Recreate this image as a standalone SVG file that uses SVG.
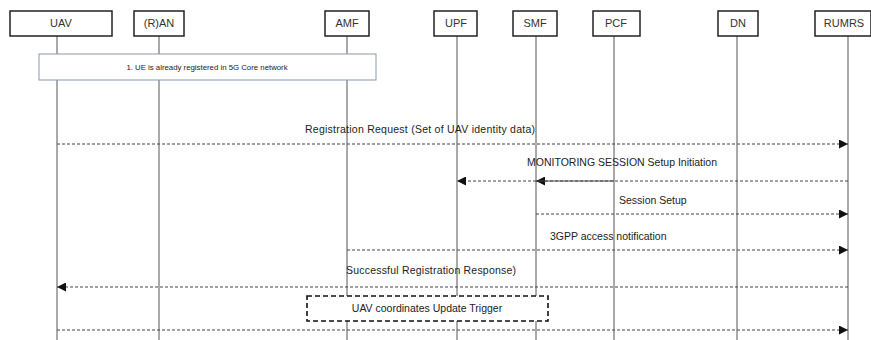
<svg xmlns="http://www.w3.org/2000/svg" width="871" height="340" viewBox="0 0 871 340">
  <style>
    .hdr rect { fill: #fff; stroke: #222; stroke-width: 1.5; }
    .hdr text { font-family: "Liberation Sans", Arial, sans-serif; font-size: 11px; fill: #333; text-anchor: middle; }
    .life { stroke: #555; stroke-width: 1; }
    .msg { stroke: #444; stroke-width: 1; stroke-dasharray: 3 2; fill: none; }
    .solid { stroke: #444; stroke-width: 1; fill: none; }
    .lbl { font-family: "Liberation Sans", Arial, sans-serif; font-size: 10.5px; fill: #222; }
    .note rect { fill: #fff; stroke: #8a97ab; stroke-width: 1; }
    .note text { font-family: "Liberation Sans", Arial, sans-serif; font-size: 7.8px; fill: #222; text-anchor: middle; }
    .trig rect { fill: #fff; stroke: #111; stroke-width: 1.6; stroke-dasharray: 5 3; }
    .trig text { font-family: "Liberation Sans", Arial, sans-serif; font-size: 10.5px; fill: #222; text-anchor: middle; }
  </style>
  <defs>
    <marker id="arr" viewBox="0 0 10 10" refX="10" refY="5" markerWidth="10" markerHeight="9" markerUnits="userSpaceOnUse" orient="auto">
      <path d="M0,0 L10,5 L0,10 Z" fill="#111"/>
    </marker>
  </defs>

  <rect width="871" height="340" fill="#fff"/>

  <!-- lifelines -->
  <g id="lifelines">
    <line class="life" x1="57" y1="36" x2="57" y2="340"/>
    <line class="life" x1="159" y1="36" x2="159" y2="340" stroke="#888"/>
    <line class="life" x1="347" y1="36" x2="347" y2="340"/>
    <line class="life" x1="457" y1="36" x2="457" y2="340"/>
    <line class="life" x1="536" y1="36" x2="536" y2="340" stroke="#888"/>
    <line class="life" x1="614" y1="36" x2="614" y2="340" stroke="#888"/>
    <line class="life" x1="737" y1="36" x2="737" y2="340"/>
    <line class="life" x1="848" y1="36" x2="848" y2="340" stroke="#888"/>
  </g>

  <!-- participants -->
  <g id="uav" class="hdr"><rect x="10" y="11" width="102" height="25"/><text x="61" y="27">UAV</text></g>
  <g id="ran" class="hdr"><rect x="134" y="11" width="50" height="25"/><text x="159" y="27">(R)AN</text></g>
  <g id="amf" class="hdr"><rect x="325" y="11" width="44" height="25"/><text x="347" y="27">AMF</text></g>
  <g id="upf" class="hdr"><rect x="434" y="11" width="43" height="25"/><text x="456" y="27">UPF</text></g>
  <g id="smf" class="hdr"><rect x="513" y="11" width="44" height="25"/><text x="535" y="27">SMF</text></g>
  <g id="pcf" class="hdr"><rect x="593" y="11" width="47" height="25"/><text x="616" y="27">PCF</text></g>
  <g id="dn" class="hdr"><rect x="718" y="11" width="40" height="25"/><text x="738" y="27">DN</text></g>
  <g id="rumrs" class="hdr"><rect x="815" y="11" width="56" height="25"/><text x="844" y="27">RUMRS</text></g>

  <!-- note: already registered -->
  <g id="note1" class="note">
    <rect x="39" y="54" width="337" height="26"/>
    <text x="207" y="70">1. UE is already registered in 5G Core network</text>
  </g>

  <!-- messages -->
  <g id="connectors">
    <line class="msg" x1="57" y1="144" x2="848" y2="144" marker-end="url(#arr)"/>
    <text class="lbl" x="305" y="133" textLength="230" lengthAdjust="spacing">Registration Request (Set of UAV identity data)</text>

    <line class="msg" x1="848" y1="181" x2="536" y2="181" marker-end="url(#arr)"/>
    <line class="solid" x1="614" y1="181" x2="536" y2="181"/>
    <line class="msg" x1="536" y1="181" x2="457" y2="181" marker-end="url(#arr)"/>
    <text class="lbl" x="527" y="166">MONITORING SESSION Setup Initiation</text>

    <line class="msg" x1="536" y1="214" x2="848" y2="214" marker-end="url(#arr)"/>
    <text class="lbl" x="619" y="204">Session Setup</text>

    <line class="msg" x1="347" y1="250" x2="848" y2="250" marker-end="url(#arr)"/>
    <text class="lbl" x="550" y="240">3GPP access notification</text>

    <line class="msg" x1="848" y1="287" x2="57" y2="287" marker-end="url(#arr)"/>
    <text class="lbl" x="346" y="274" textLength="170" lengthAdjust="spacing">Successful Registration Response)</text>

    <line class="msg" x1="57" y1="330" x2="848" y2="330" marker-end="url(#arr)"/>
  </g>

  <!-- trigger box -->
  <g id="trigger" class="trig">
    <rect x="307" y="296" width="241" height="25"/>
    <text x="427" y="312">UAV coordinates Update Trigger</text>
  </g>
</svg>
